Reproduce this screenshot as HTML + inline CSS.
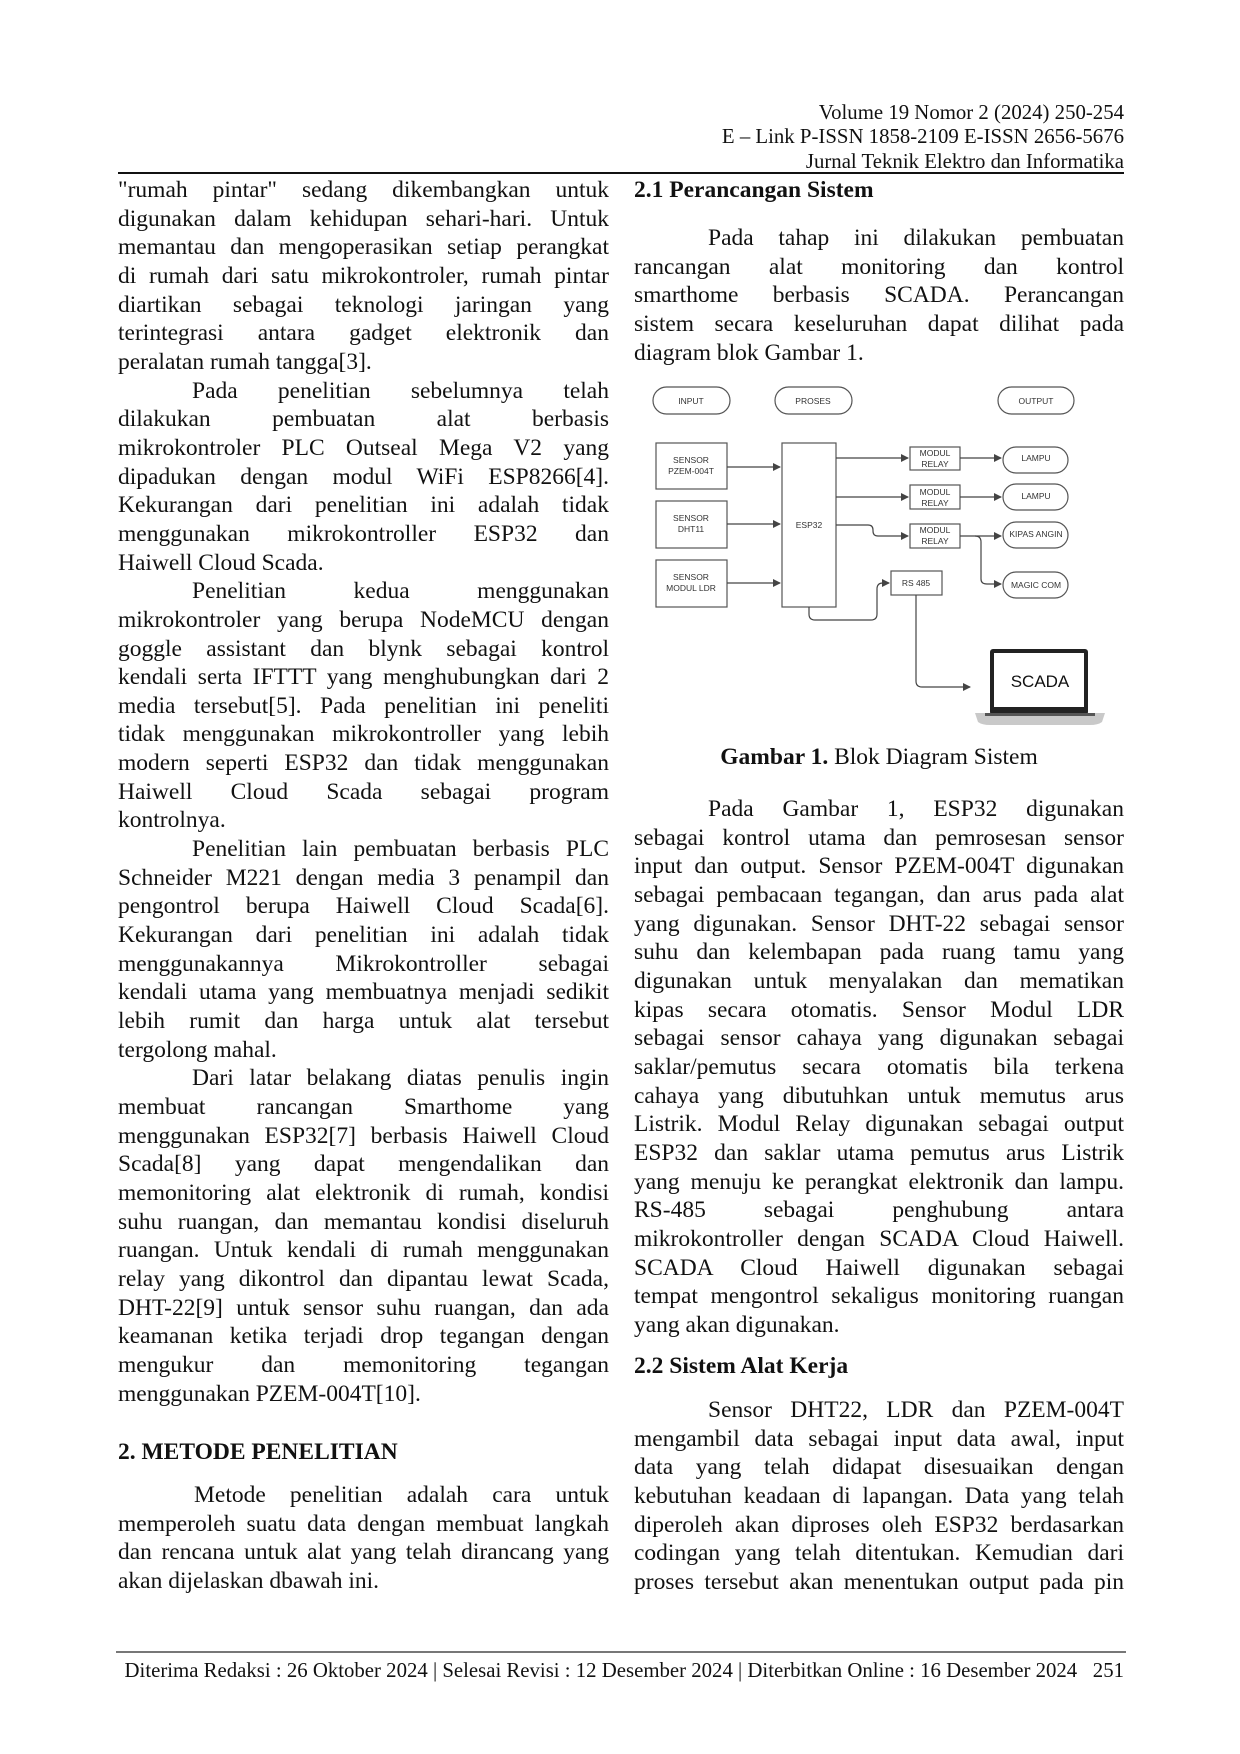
<!DOCTYPE html>
<html><head><meta charset="utf-8">
<style>
html,body{margin:0;padding:0;background:#fff;}
body{width:1240px;height:1754px;position:relative;overflow:hidden;font-family:"Liberation Serif",serif;color:#111;}
.b{position:absolute;font-size:23.5px;line-height:28.67px;}
.b div{height:28.67px;white-space:nowrap;}
.b div.j{text-align:justify;text-align-last:justify;white-space:normal;overflow:hidden;}
.i{padding-left:74px;}
.L{left:118px;width:491px;}
.R{left:634px;width:490px;}
.h{font-weight:bold;}
.hd{position:absolute;right:116px;font-size:20.8px;line-height:24px;text-align:right;white-space:nowrap;}
</style></head><body>
<div class="hd" style="top:101px">Volume 19 Nomor 2 (2024) 250-254</div>
<div class="hd" style="top:125px">E – Link P-ISSN 1858-2109 E-ISSN 2656-5676</div>
<div class="hd" style="top:150px">Jurnal Teknik Elektro dan Informatika</div>
<div style="position:absolute;left:118px;top:172px;width:1006px;height:1.5px;background:#111"></div>

<div class="b L" style="top:176px">
<div class="j">"rumah pintar" sedang dikembangkan untuk</div>
<div class="j">digunakan dalam kehidupan sehari-hari. Untuk</div>
<div class="j">memantau dan mengoperasikan setiap perangkat</div>
<div class="j">di rumah dari satu mikrokontroler, rumah pintar</div>
<div class="j">diartikan sebagai teknologi jaringan yang</div>
<div class="j">terintegrasi antara gadget elektronik dan</div>
<div>peralatan rumah tangga[3].</div>
<div class="j i">Pada penelitian sebelumnya telah</div>
<div class="j">dilakukan pembuatan alat berbasis</div>
<div class="j">mikrokontroler PLC Outseal Mega V2 yang</div>
<div class="j">dipadukan dengan modul WiFi ESP8266[4].</div>
<div class="j">Kekurangan dari penelitian ini adalah tidak</div>
<div class="j">menggunakan mikrokontroller ESP32 dan</div>
<div>Haiwell Cloud Scada.</div>
<div class="j i">Penelitian kedua menggunakan</div>
<div class="j">mikrokontroler yang berupa NodeMCU dengan</div>
<div class="j">goggle assistant dan blynk sebagai kontrol</div>
<div class="j">kendali serta IFTTT yang menghubungkan dari 2</div>
<div class="j">media tersebut[5]. Pada penelitian ini peneliti</div>
<div class="j">tidak menggunakan mikrokontroller yang lebih</div>
<div class="j">modern seperti ESP32 dan tidak menggunakan</div>
<div class="j">Haiwell Cloud Scada sebagai program</div>
<div>kontrolnya.</div>
<div class="j i">Penelitian lain pembuatan berbasis PLC</div>
<div class="j">Schneider M221 dengan media 3 penampil dan</div>
<div class="j">pengontrol berupa Haiwell Cloud Scada[6].</div>
<div class="j">Kekurangan dari penelitian ini adalah tidak</div>
<div class="j">menggunakannya Mikrokontroller sebagai</div>
<div class="j">kendali utama yang membuatnya menjadi sedikit</div>
<div class="j">lebih rumit dan harga untuk alat tersebut</div>
<div>tergolong mahal.</div>
<div class="j i">Dari latar belakang diatas penulis ingin</div>
<div class="j">membuat rancangan Smarthome yang</div>
<div class="j">menggunakan ESP32[7] berbasis Haiwell Cloud</div>
<div class="j">Scada[8] yang dapat mengendalikan dan</div>
<div class="j">memonitoring alat elektronik di rumah, kondisi</div>
<div class="j">suhu ruangan, dan memantau kondisi diseluruh</div>
<div class="j">ruangan. Untuk kendali di rumah menggunakan</div>
<div class="j">relay yang dikontrol dan dipantau lewat Scada,</div>
<div class="j">DHT-22[9] untuk sensor suhu ruangan, dan ada</div>
<div class="j">keamanan ketika terjadi drop tegangan dengan</div>
<div class="j">mengukur dan memonitoring tegangan</div>
<div>menggunakan PZEM-004T[10].</div>
</div>
<div class="b L h" style="top:1438px"><div>2. METODE PENELITIAN</div></div>
<div class="b L" style="top:1481px">
<div class="j" style="padding-left:76px">Metode penelitian adalah cara untuk</div>
<div class="j">memperoleh suatu data dengan membuat langkah</div>
<div class="j">dan rencana untuk alat yang telah dirancang yang</div>
<div>akan dijelaskan dbawah ini.</div>
</div>

<div class="b R h" style="top:176px"><div>2.1 Perancangan Sistem</div></div>
<div class="b R" style="top:224px">
<div class="j i">Pada tahap ini dilakukan pembuatan</div>
<div class="j">rancangan alat monitoring dan kontrol</div>
<div class="j">smarthome berbasis SCADA. Perancangan</div>
<div class="j">sistem secara keseluruhan dapat dilihat pada</div>
<div>diagram blok Gambar 1.</div>
</div>

<svg style="position:absolute;left:0;top:0" width="1240" height="1754" font-family="Liberation Sans, sans-serif">
<defs><marker id="a" markerWidth="8" markerHeight="8" refX="7" refY="4" orient="auto" markerUnits="userSpaceOnUse"><path d="M0,0 L8,4 L0,8 z" fill="#444"/></marker></defs>
<g fill="none" stroke="#555" stroke-width="1.2">
<rect x="653" y="387" width="77" height="27" rx="13.5"/>
<rect x="775" y="387" width="77" height="27" rx="13.5"/>
<rect x="998" y="387" width="76" height="27" rx="13.5"/>
<rect x="656" y="443" width="71" height="46"/>
<rect x="656" y="501" width="71" height="47"/>
<rect x="656" y="560" width="71" height="47"/>
<rect x="782" y="443" width="54" height="164"/>
<rect x="910" y="447" width="50" height="23"/>
<rect x="910" y="485" width="50" height="24"/>
<rect x="910" y="524" width="50" height="24"/>
<rect x="1003" y="447" width="65" height="26" rx="13"/>
<rect x="1003" y="484" width="65" height="26" rx="13"/>
<rect x="1003" y="522" width="65" height="26" rx="13"/>
<rect x="1003" y="572" width="65" height="26" rx="13"/>
<rect x="891" y="571" width="51" height="24"/>
</g>
<g fill="none" stroke="#444" stroke-width="1.2">
<path d="M727 467 H780" marker-end="url(#a)"/>
<path d="M727 524 H780" marker-end="url(#a)"/>
<path d="M727 583 H780" marker-end="url(#a)"/>
<path d="M836 458 H908" marker-end="url(#a)"/>
<path d="M836 497 H908" marker-end="url(#a)"/>
<path d="M836 525 H868 Q873 525 873 530 V531 Q873 536 878 536 H908" marker-end="url(#a)"/>
<path d="M960 458 H1001" marker-end="url(#a)"/>
<path d="M960 497 H1001" marker-end="url(#a)"/>
<path d="M960 536 H1001" marker-end="url(#a)"/>
<path d="M975 536 Q981 536 981 542 V579 Q981 584 987 584 H1001" marker-end="url(#a)"/>
<path d="M809 607 V614 Q809 620 815 620 H871 Q877 620 877 614 V589 Q877 583 883 583 H889" marker-end="url(#a)"/>
<path d="M916 595 V681 Q916 687 922 687 H970" marker-end="url(#a)"/>
</g>
<rect x="990" y="649" width="98" height="66" rx="3" fill="#222"/>
<rect x="994" y="653" width="90" height="54" fill="#fff"/>
<path d="M975 713 H1105 L1102 722 Q1098 725 1090 725 H990 Q982 725 978 722 Z" fill="#c9c9c9"/>
<rect x="985" y="713" width="110" height="3" fill="#555"/>
<text x="1040" y="687" font-size="17" text-anchor="middle" fill="#111">SCADA</text>
<g font-size="8.5" fill="#333" text-anchor="middle">
<text x="691" y="404">INPUT</text>
<text x="813" y="404">PROSES</text>
<text x="1036" y="404">OUTPUT</text>
<text x="691" y="463">SENSOR</text><text x="691" y="474">PZEM-004T</text>
<text x="691" y="521">SENSOR</text><text x="691" y="532">DHT11</text>
<text x="691" y="580">SENSOR</text><text x="691" y="591">MODUL LDR</text>
<text x="809" y="528">ESP32</text>
<text x="935" y="456">MODUL</text><text x="935" y="467">RELAY</text>
<text x="935" y="495">MODUL</text><text x="935" y="506">RELAY</text>
<text x="935" y="533">MODUL</text><text x="935" y="544">RELAY</text>
<text x="1036" y="461">LAMPU</text>
<text x="1036" y="499">LAMPU</text>
<text x="1036" y="537">KIPAS ANGIN</text>
<text x="1036" y="588">MAGIC COM</text>
<text x="916" y="586">RS 485</text>
</g>
</svg>

<div class="b R" style="top:743px;text-align:center"><div><b>Gambar 1.</b> Blok Diagram Sistem</div></div>

<div class="b R" style="top:795px">
<div class="j i">Pada Gambar 1, ESP32 digunakan</div>
<div class="j">sebagai kontrol utama dan pemrosesan sensor</div>
<div class="j">input dan output. Sensor PZEM-004T digunakan</div>
<div class="j">sebagai pembacaan tegangan, dan arus pada alat</div>
<div class="j">yang digunakan. Sensor DHT-22 sebagai sensor</div>
<div class="j">suhu dan kelembapan pada ruang tamu yang</div>
<div class="j">digunakan untuk menyalakan dan mematikan</div>
<div class="j">kipas secara otomatis. Sensor Modul LDR</div>
<div class="j">sebagai sensor cahaya yang digunakan sebagai</div>
<div class="j">saklar/pemutus secara otomatis bila terkena</div>
<div class="j">cahaya yang dibutuhkan untuk memutus arus</div>
<div class="j">Listrik. Modul Relay digunakan sebagai output</div>
<div class="j">ESP32 dan saklar utama pemutus arus Listrik</div>
<div class="j">yang menuju ke perangkat elektronik dan lampu.</div>
<div class="j">RS-485 sebagai penghubung antara</div>
<div class="j">mikrokontroller dengan SCADA Cloud Haiwell.</div>
<div class="j">SCADA Cloud Haiwell digunakan sebagai</div>
<div class="j">tempat mengontrol sekaligus monitoring ruangan</div>
<div>yang akan digunakan.</div>
</div>
<div class="b R h" style="top:1352px"><div>2.2 Sistem Alat Kerja</div></div>
<div class="b R" style="top:1396px">
<div class="j i">Sensor DHT22, LDR dan PZEM-004T</div>
<div class="j">mengambil data sebagai input data awal, input</div>
<div class="j">data yang telah didapat disesuaikan dengan</div>
<div class="j">kebutuhan keadaan di lapangan. Data yang telah</div>
<div class="j">diperoleh akan diproses oleh ESP32 berdasarkan</div>
<div class="j">codingan yang telah ditentukan. Kemudian dari</div>
<div class="j">proses tersebut akan menentukan output pada pin</div>
</div>

<div style="position:absolute;left:116px;top:1651px;width:1010px;height:2px;background:#777"></div>
<div class="hd" style="top:1659px">Diterima Redaksi : 26 Oktober 2024 | Selesai Revisi : 12 Desember 2024 | Diterbitkan Online : 16 Desember 2024&nbsp;&nbsp;&nbsp;251</div>
</body></html>
